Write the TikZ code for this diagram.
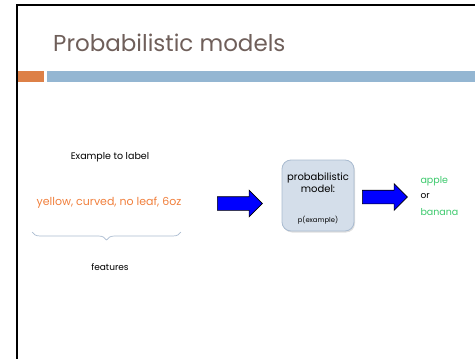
\documentclass[tikz,border=0pt]{standalone}
\usepackage{fontspec}
\setmainfont{Poppins}
\usetikzlibrary{shapes.arrows, shadows, decorations.pathreplacing, positioning}

\definecolor{titlegray}{HTML}{6F5F5A}
\definecolor{accentorange}{HTML}{DD8047}
\definecolor{accentblue}{HTML}{94B6D2}
\definecolor{featorange}{HTML}{F07F3C}
\definecolor{classgreen}{HTML}{3CC96C}
\definecolor{modelfill}{HTML}{D4DEEA}
\definecolor{modeldraw}{HTML}{A9BBD0}

\begin{document}
\begin{tikzpicture}[
    x=1pt, y=-1pt,
    font=\fontsize{9}{10.5}\selectfont,
    blockarrow/.style={single arrow, draw=black, line width=0.6pt, fill=blue, inner sep=0pt,
        text height=13pt, text depth=0pt, minimum height=45pt, single arrow head extend=6.5pt},
    model/.style={rectangle, rounded corners=9pt, draw=modeldraw, line width=0.8pt, fill=modelfill,
        minimum width=72pt, minimum height=71pt, drop shadow={opacity=0.25, shadow xshift=1pt, shadow yshift=-1.5pt}},
    feature/.style={text=featorange, font=\fontsize{11}{13}\selectfont},
    classname/.style={text=classgreen, font=\fontsize{9.5}{11}\selectfont}
]
\useasboundingbox (0,0) rectangle (475,359);

% slide frame
\draw[line width=2pt] (17,359) -- (17,5) -- (475,5);

\node[anchor=base west, text=titlegray, font=\fontsize{23}{26}\selectfont, inner sep=0pt] (title) at (53,51) {Probabilistic models};

\fill[accentorange] (18,71) rectangle (44,82);
\fill[accentblue] (47,71) rectangle (475,82);

% example
\node[font=\fontsize{9.5}{11}\selectfont] (example) at (110,157) {Example to label};
\node[feature] (feat) at (109,203) {yellow, curved, no leaf, 6oz};
\draw[modeldraw, line width=0.7pt, decorate, decoration={brace, mirror, amplitude=8pt}] (32,232) -- (181,232);
\node (features) at (110,267) {features};

% model
\node[blockarrow] (arrowin) at (236.5,203.5) {};
\node[model] (model) at (318,195.5) {};
\node[font=\fontsize{10}{12}\selectfont, align=center] (modeltext) at (318,183) {probabilistic\\model:};
\node[font=\fontsize{6.8}{8}\selectfont] (prob) at (318,220) {p(example)};
\node[blockarrow] (arrowout) at (381.5,197) {};

% output
\node[classname, anchor=west] (apple) at (417,181) {apple};
\node[anchor=west] (or) at (417,196.5) {or};
\node[classname, anchor=west] (banana) at (417,212) {banana};

\end{tikzpicture}
\end{document}
